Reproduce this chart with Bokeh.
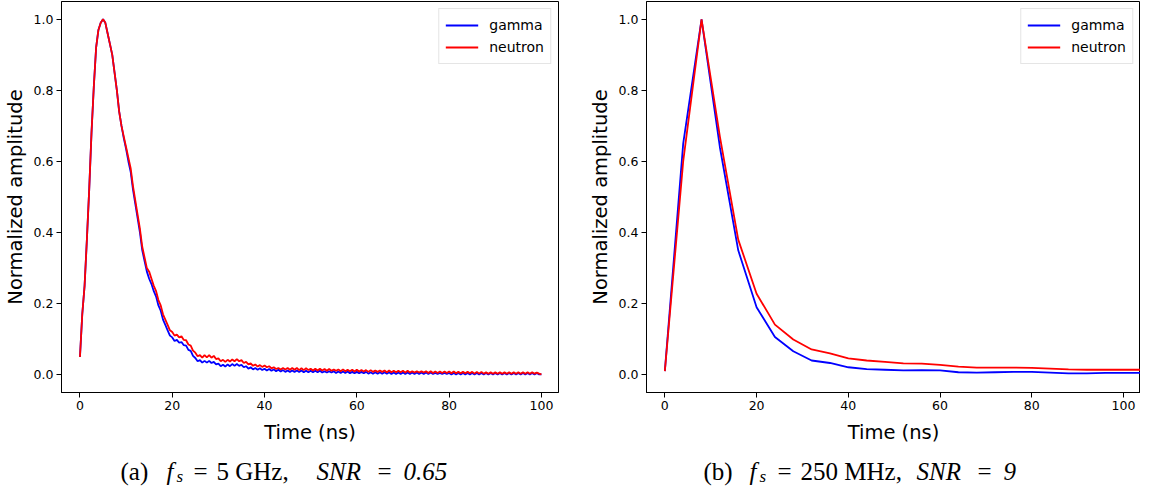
from bokeh.plotting import figure
from bokeh.layouts import column, row
from bokeh.models import Range1d, FixedTicker, PrintfTickFormatter, Legend, LegendItem
from bokeh.core.properties import value
from bokeh.embed import file_html
from bokeh.resources import INLINE

# ---------------- data: (a) fs = 5 GHz ----------------
time_a = [
    0, 0.5, 1, 1.5, 2, 2.5, 3, 3.5, 4, 4.5,
    5, 5.5, 6, 6.5, 7, 7.5, 8, 8.5, 9, 9.5,
    10, 10.5, 11, 11.5, 12, 12.5, 13, 13.5, 14, 14.5,
    15, 15.5, 16, 16.5, 17, 17.5, 18, 18.5, 19, 19.5,
    20, 20.5, 21, 21.5, 22, 22.5, 23, 23.5, 24, 24.5,
    25, 25.5, 26, 26.5, 27, 27.5, 28, 28.5, 29, 29.5,
    30, 30.5, 31, 31.5, 32, 32.5, 33, 33.5, 34, 34.5,
    35, 35.5, 36, 36.5, 37, 37.5, 38, 38.5, 39, 39.5,
    40, 40.5, 41, 41.5, 42, 42.5, 43, 43.5, 44, 44.5,
    45, 45.5, 46, 46.5, 47, 47.5, 48, 48.5, 49, 49.5,
    50, 50.5, 51, 51.5, 52, 52.5, 53, 53.5, 54, 54.5,
    55, 55.5, 56, 56.5, 57, 57.5, 58, 58.5, 59, 59.5,
    60, 60.5, 61, 61.5, 62, 62.5, 63, 63.5, 64, 64.5,
    65, 65.5, 66, 66.5, 67, 67.5, 68, 68.5, 69, 69.5,
    70, 70.5, 71, 71.5, 72, 72.5, 73, 73.5, 74, 74.5,
    75, 75.5, 76, 76.5, 77, 77.5, 78, 78.5, 79, 79.5,
    80, 80.5, 81, 81.5, 82, 82.5, 83, 83.5, 84, 84.5,
    85, 85.5, 86, 86.5, 87, 87.5, 88, 88.5, 89, 89.5,
    90, 90.5, 91, 91.5, 92, 92.5, 93, 93.5, 94, 94.5,
    95, 95.5, 96, 96.5, 97, 97.5, 98, 98.5, 99, 99.5,
    100,
]
gamma_a = [
    0.05, 0.17, 0.25, 0.38, 0.52, 0.68, 0.81, 0.92, 0.97, 0.99,
    1.00, 0.99, 0.96, 0.93, 0.90, 0.85, 0.80, 0.74, 0.70, 0.665,
    0.635, 0.60, 0.57, 0.52, 0.48, 0.44, 0.40, 0.35, 0.32, 0.29,
    0.27, 0.255, 0.235, 0.22, 0.195, 0.18, 0.155, 0.14, 0.125, 0.11,
    0.105, 0.095, 0.098, 0.09, 0.092, 0.083, 0.082, 0.07, 0.067, 0.053,
    0.047, 0.038, 0.041, 0.034, 0.039, 0.034, 0.039, 0.033, 0.036, 0.029,
    0.031, 0.024, 0.028, 0.023, 0.029, 0.024, 0.030, 0.025, 0.030, 0.025,
    0.028, 0.021, 0.024, 0.017, 0.021, 0.015, 0.019, 0.014, 0.018, 0.013,
    0.017, 0.012, 0.016, 0.011, 0.015, 0.010, 0.014, 0.009, 0.013, 0.008,
    0.012, 0.008, 0.012, 0.008, 0.012, 0.008, 0.012, 0.007, 0.011, 0.007,
    0.011, 0.007, 0.011, 0.007, 0.011, 0.006, 0.010, 0.006, 0.010, 0.006,
    0.010, 0.005, 0.009, 0.005, 0.009, 0.005, 0.009, 0.004, 0.008, 0.004,
    0.008, 0.004, 0.008, 0.004, 0.008, 0.003, 0.007, 0.003, 0.007, 0.003,
    0.007, 0.003, 0.007, 0.003, 0.007, 0.002, 0.006, 0.002, 0.006, 0.002,
    0.006, 0.002, 0.006, 0.002, 0.006, 0.002, 0.006, 0.002, 0.006, 0.002,
    0.006, 0.002, 0.006, 0.002, 0.005, 0.002, 0.005, 0.002, 0.005, 0.002,
    0.005, 0.001, 0.005, 0.001, 0.005, 0.001, 0.005, 0.001, 0.005, 0.001,
    0.005, 0.001, 0.005, 0.001, 0.005, 0.001, 0.005, 0.001, 0.005, 0.001,
    0.005, 0.001, 0.005, 0.001, 0.005, 0.001, 0.005, 0.001, 0.005, 0.001,
    0.005, 0.001, 0.005, 0.001, 0.005, 0.001, 0.005, 0.001, 0.005, 0.001,
    0.001,
]
neutron_a = [
    0.05, 0.17, 0.25, 0.38, 0.52, 0.68, 0.81, 0.92, 0.97, 0.99,
    1.00, 0.99, 0.96, 0.93, 0.90, 0.85, 0.80, 0.74, 0.70, 0.67,
    0.64, 0.61, 0.58, 0.53, 0.49, 0.45, 0.41, 0.36, 0.33, 0.30,
    0.29, 0.27, 0.25, 0.235, 0.21, 0.195, 0.17, 0.155, 0.14, 0.125,
    0.12, 0.11, 0.113, 0.105, 0.108, 0.098, 0.097, 0.085, 0.082, 0.068,
    0.062, 0.052, 0.055, 0.048, 0.055, 0.049, 0.055, 0.048, 0.053, 0.044,
    0.046, 0.038, 0.042, 0.036, 0.042, 0.037, 0.043, 0.038, 0.044, 0.038,
    0.041, 0.033, 0.036, 0.029, 0.032, 0.025, 0.029, 0.023, 0.027, 0.022,
    0.026, 0.021, 0.024, 0.018, 0.021, 0.016, 0.019, 0.015, 0.019, 0.015,
    0.019, 0.014, 0.019, 0.014, 0.019, 0.013, 0.018, 0.013, 0.018, 0.013,
    0.017, 0.012, 0.017, 0.012, 0.017, 0.012, 0.016, 0.011, 0.016, 0.011,
    0.015, 0.011, 0.015, 0.010, 0.015, 0.010, 0.014, 0.010, 0.014, 0.009,
    0.014, 0.009, 0.013, 0.009, 0.013, 0.008, 0.013, 0.008, 0.012, 0.008,
    0.012, 0.008, 0.012, 0.007, 0.012, 0.007, 0.011, 0.007, 0.011, 0.007,
    0.011, 0.006, 0.011, 0.006, 0.010, 0.006, 0.010, 0.006, 0.010, 0.006,
    0.010, 0.005, 0.010, 0.005, 0.009, 0.005, 0.009, 0.005, 0.009, 0.005,
    0.009, 0.004, 0.009, 0.004, 0.008, 0.004, 0.008, 0.004, 0.008, 0.004,
    0.008, 0.003, 0.008, 0.003, 0.008, 0.003, 0.007, 0.003, 0.007, 0.003,
    0.007, 0.003, 0.007, 0.003, 0.007, 0.003, 0.007, 0.003, 0.007, 0.003,
    0.007, 0.003, 0.007, 0.003, 0.007, 0.003, 0.007, 0.003, 0.006, 0.003,
    0.001,
]

# ---------------- data: (b) fs = 250 MHz ----------------
time_b = [0, 4, 8, 12, 16, 20, 24, 28, 32, 36, 40, 44, 48, 52,
          56, 60, 64, 68, 72, 76, 80, 84, 88, 92, 96, 100, 104, 108]
gamma_b = [0.01, 0.65, 1.0, 0.64, 0.35, 0.19, 0.106, 0.066, 0.040, 0.033,
           0.021, 0.016, 0.014, 0.012, 0.013, 0.012, 0.007, 0.006, 0.007,
           0.008, 0.008, 0.006, 0.004, 0.004, 0.005, 0.005, 0.005, 0.005]
neutron_b = [0.01, 0.60, 1.0, 0.67, 0.38, 0.228, 0.141, 0.099, 0.071, 0.060,
             0.046, 0.040, 0.036, 0.032, 0.031, 0.028, 0.023, 0.020, 0.020,
             0.020, 0.019, 0.017, 0.015, 0.014, 0.014, 0.014, 0.014, 0.014]

series_names = ["gamma", "neutron"]
series_colors = ["#0000ff", "#ff0000"]
x_ticks = [0, 20, 40, 60, 80, 100]
y_ticks = [0.0, 0.2, 0.4, 0.6, 0.8, 1.0]
x_label = "Time (ns)"
y_label = "Normalized amplitude"

# captions: (text, x, style, size, dy)
caption_pieces = [
    ("(a)", 120, "normal", "25px", 0),
    ("f", 166, "italic", "25px", 0),
    ("s", 176, "italic", "17px", -5),
    ("=", 193, "normal", "25px", 0),
    ("5 GHz,", 216, "normal", "25px", 0),
    ("SNR", 316, "italic", "25px", 0),
    ("=", 377, "normal", "25px", 0),
    ("0.65", 403, "italic", "25px", 0),
    ("(b)", 703, "normal", "25px", 0),
    ("f", 749, "italic", "25px", 0),
    ("s", 759, "italic", "17px", -5),
    ("=", 777, "normal", "25px", 0),
    ("250 MHz,", 800, "normal", "25px", 0),
    ("SNR", 916, "italic", "25px", 0),
    ("=", 977, "normal", "25px", 0),
    ("9", 1003, "italic", "25px", 0),
]


def make_panel(t, g, n, width, border_left, border_right):
    p = figure(width=width, height=446, output_backend="svg", toolbar_location=None,
               x_range=Range1d(-4, 103.7), y_range=Range1d(-0.05, 1.05),
               min_border_left=border_left, min_border_right=border_right,
               min_border_top=1, min_border_bottom=52)
    p.background_fill_color = "white"
    p.border_fill_color = "white"
    p.outline_line_color = "black"
    p.outline_line_width = 1
    p.grid.visible = False
    r1 = p.line(t, g, line_color=series_colors[0], line_width=1.8)
    r2 = p.line(t, n, line_color=series_colors[1], line_width=1.8)
    for ax in (p.xaxis[0], p.yaxis[0]):
        ax.axis_line_color = "black"
        ax.major_tick_line_color = "black"
        ax.major_tick_in = 0
        ax.major_tick_out = 5
        ax.minor_tick_line_color = None
        ax.major_label_text_font = "DejaVu Sans"
        ax.major_label_text_font_size = "12.5px"
        ax.major_label_text_color = "black"
        ax.axis_label_text_font = "DejaVu Sans"
        ax.axis_label_text_font_size = "19.5px"
        ax.axis_label_text_font_style = "normal"
        ax.axis_label_text_color = "black"
        ax.major_label_standoff = 3
    p.xaxis[0].ticker = FixedTicker(ticks=x_ticks)
    p.yaxis[0].ticker = FixedTicker(ticks=y_ticks)
    p.xaxis[0].formatter = PrintfTickFormatter(format="%d")
    p.yaxis[0].formatter = PrintfTickFormatter(format="%.1f")
    p.xaxis[0].axis_label = x_label
    p.yaxis[0].axis_label = y_label
    p.xaxis[0].axis_label_standoff = 8
    p.yaxis[0].axis_label_standoff = 4
    legend = Legend(items=[LegendItem(label=series_names[0], renderers=[r1]),
                           LegendItem(label=series_names[1], renderers=[r2])],
                    location="top_right", margin=7, padding=6, spacing=2,
                    glyph_width=33, glyph_height=20, label_height=20,
                    label_standoff=11, label_text_font="DejaVu Sans",
                    label_text_font_size="14px", label_text_color="black",
                    border_line_color="#cccccc", border_line_width=1,
                    background_fill_color="white", background_fill_alpha=0.8)
    p.add_layout(legend)
    return p


pa = make_panel(time_a, gamma_a, neutron_a, 585, 60, 27)
pb = make_panel(time_b, gamma_b, neutron_b, 555, 57, 0)

pc = figure(width=1140, height=40, output_backend="svg", toolbar_location=None,
            x_range=Range1d(0, 1140), y_range=Range1d(0, 40),
            x_axis_type=None, y_axis_type=None, min_border=0)
pc.outline_line_color = None
pc.grid.visible = False
for txt, x, style, size, dy in caption_pieces:
    pc.text(x=[x], y=[15 + dy], text=[txt], text_font=value("Liberation Serif"),
            text_font_size=size, text_font_style=style, text_color="black",
            text_baseline="alphabetic", text_align="left")

layout = column(row(pa, pb), pc)
open("out.html", "w").write(file_html(layout, INLINE))
